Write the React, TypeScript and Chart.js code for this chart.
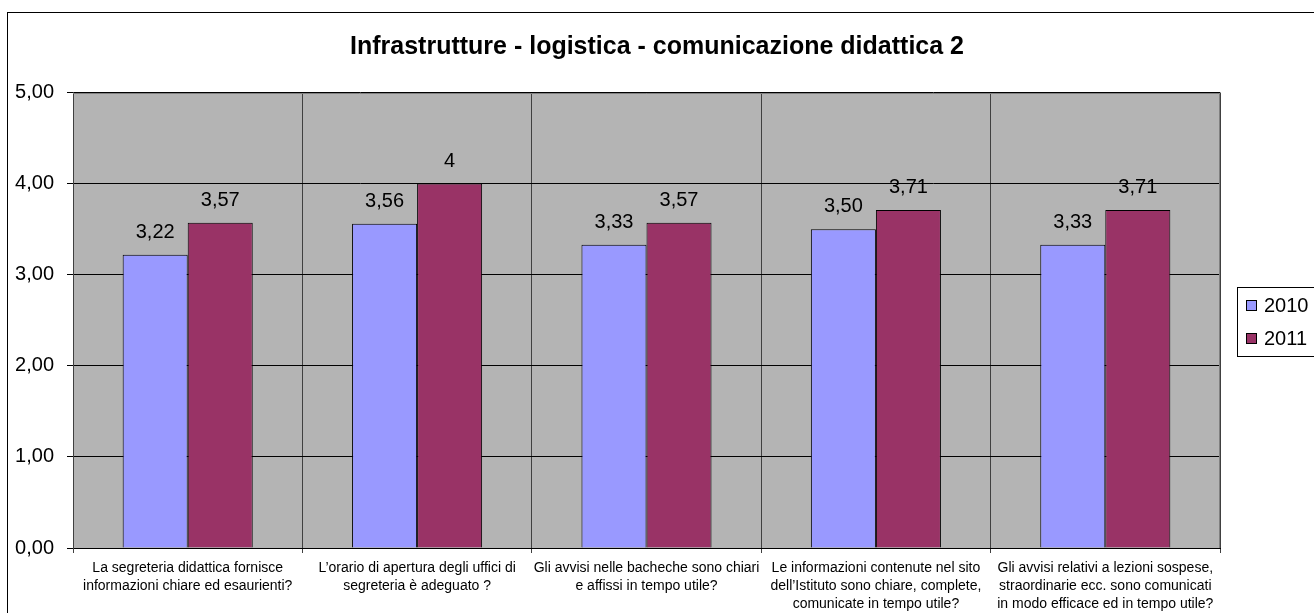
import React, { useEffect, useRef } from "react";
import { Chart, registerables } from "chart.js";

Chart.register(...registerables);

const FONT = "'Liberation Sans', Arial, Helvetica, sans-serif";

const chartTitle = "Infrastrutture - logistica - comunicazione didattica 2";

const categories: string[][] = [
  ["La segreteria didattica fornisce", "informazioni chiare ed esaurienti?"],
  ["L\u2019orario di apertura degli uffici di", "segreteria \u00e8 adeguato ?"],
  ["Gli avvisi nelle bacheche sono chiari", "e affissi in tempo utile?"],
  ["Le informazioni contenute nel sito", "dell\u2019Istituto sono chiare, complete,", "comunicate in tempo utile?"],
  ["Gli avvisi relativi a lezioni sospese,", "straordinarie ecc. sono comunicati", "in modo efficace ed in tempo utile?"],
];

const seriesNames = ["2010", "2011"];
const values2010 = [3.22, 3.56, 3.33, 3.5, 3.33];
const values2011 = [3.57, 4, 3.57, 3.71, 3.71];
const valueLabels2010 = ["3,22", "3,56", "3,33", "3,50", "3,33"];
const valueLabels2011 = ["3,57", "4", "3,57", "3,71", "3,71"];
const seriesColors = ["#9999FF", "#993366"];

const yMin = 0;
const yMax = 5;
const yStep = 1;

const backgroundPlugin = {
  id: "bgFrame",
  beforeDraw(chart: any) {
    const { ctx, chartArea } = chart;
    ctx.save();
    ctx.fillStyle = "#ffffff";
    ctx.fillRect(0, 0, chart.width, chart.height);
    ctx.strokeStyle = "#000000";
    ctx.lineWidth = 1;
    ctx.strokeRect(7.5, 12.5, 1500, 800);
    ctx.fillStyle = "#B4B4B4";
    ctx.fillRect(chartArea.left, chartArea.top, chartArea.right - chartArea.left, chartArea.bottom - chartArea.top);
    ctx.restore();
  },
  beforeDatasetsDraw(chart: any) {
    const { ctx, chartArea } = chart;
    ctx.save();
    ctx.strokeStyle = "#808080";
    ctx.lineWidth = 1;
    ctx.beginPath();
    ctx.moveTo(chartArea.left, Math.round(chartArea.top) + 0.5);
    ctx.lineTo(Math.round(chartArea.right) - 0.5, Math.round(chartArea.top) + 0.5);
    ctx.lineTo(Math.round(chartArea.right) - 0.5, chartArea.bottom);
    ctx.stroke();
    ctx.restore();
  },
};

const valueLabelPlugin = {
  id: "valueLabels",
  afterDatasetsDraw(chart: any) {
    const { ctx } = chart;
    const all = [valueLabels2010, valueLabels2011];
    ctx.save();
    ctx.font = `20px ${FONT}`;
    ctx.fillStyle = "#000000";
    ctx.textAlign = "center";
    ctx.textBaseline = "alphabetic";
    chart.data.datasets.forEach((_ds: any, di: number) => {
      const meta = chart.getDatasetMeta(di);
      meta.data.forEach((el: any, i: number) => {
        ctx.fillText(all[di][i], el.x, el.y - 17);
      });
    });
    ctx.restore();
  },
};

const legendPlugin = {
  id: "customLegend",
  afterDraw(chart: any) {
    const { ctx } = chart;
    const left = 1237.5;
    const top = 287.5;
    const bottom = 356.5;
    ctx.save();
    ctx.fillStyle = "#ffffff";
    ctx.fillRect(left, top, 200, bottom - top);
    ctx.strokeStyle = "#000000";
    ctx.lineWidth = 1;
    ctx.strokeRect(left, top, 200, bottom - top);
    ctx.font = `20px ${FONT}`;
    ctx.textAlign = "left";
    ctx.textBaseline = "middle";
    chart.data.datasets.forEach((ds: any, i: number) => {
      const cy = 305 + i * 33;
      ctx.fillStyle = ds.backgroundColor;
      ctx.fillRect(1246, cy - 5, 11, 11);
      ctx.strokeStyle = "#000000";
      ctx.strokeRect(1246.5, cy - 4.5, 10, 10);
      ctx.fillStyle = "#000000";
      ctx.fillText(ds.label, 1264, cy + 1);
    });
    ctx.restore();
  },
};

export default function App() {
  const canvasRef = useRef<HTMLCanvasElement | null>(null);

  useEffect(() => {
    if (!canvasRef.current) return;
    Chart.defaults.font.family = FONT;
    const chart = new Chart(canvasRef.current, {
      type: "bar",
      data: {
        labels: categories,
        datasets: [
          {
            label: seriesNames[0],
            data: values2010,
            backgroundColor: seriesColors[0],
            borderColor: "#000000",
            borderWidth: 1,
            categoryPercentage: 0.567,
            barPercentage: 1,
          },
          {
            label: seriesNames[1],
            data: values2011,
            backgroundColor: seriesColors[1],
            borderColor: "#000000",
            borderWidth: 1,
            categoryPercentage: 0.567,
            barPercentage: 1,
          },
        ],
      },
      options: {
        animation: false,
        responsive: false,
        devicePixelRatio: 1,
        layout: { padding: { left: 0, right: 0, top: 0, bottom: 0 } },
        plugins: {
          legend: { display: false },
          tooltip: { enabled: false },
          title: {
            display: true,
            text: chartTitle,
            color: "#000000",
            font: { size: 25, weight: "bold", family: FONT, lineHeight: 1.2 },
            padding: { top: 32, bottom: 30.5 },
          },
        },
        scales: {
          x: {
            offset: true,
            grid: {
              offset: true,
              color: "#404040",
              lineWidth: 1,
              tickLength: 5,
              tickColor: "#404040",
            },
            border: { color: "#000000", width: 1 },
            ticks: {
              color: "#000000",
              font: { size: 14, family: FONT, lineHeight: 18 / 14 },
              padding: 6,
              autoSkip: false,
              maxRotation: 0,
              minRotation: 0,
            },
            afterFit: (scale: any) => {
              scale.height = 65;
            },
          },
          y: {
            min: yMin,
            max: yMax,
            grid: {
              color: "#000000",
              lineWidth: 1,
              tickLength: 6,
              tickColor: "#000000",
            },
            border: { color: "#404040", width: 1 },
            ticks: {
              stepSize: yStep,
              color: "#000000",
              font: { size: 20, family: FONT },
              padding: 13,
              callback: (v: any) => Number(v).toFixed(2).replace(".", ","),
            },
            afterFit: (scale: any) => {
              scale.width = 73;
            },
          },
          legendSpace: {
            type: "linear",
            position: "right",
            display: true,
            grid: { display: false, drawTicks: false },
            border: { display: false },
            ticks: { display: false },
            afterFit: (scale: any) => {
              scale.width = 94;
            },
          },
        },
      },
      plugins: [backgroundPlugin, valueLabelPlugin, legendPlugin],
    });
    return () => chart.destroy();
  }, []);

  return (
    <div style={{ position: "absolute", left: 0, top: 0, width: 1314, height: 613 }}>
      <canvas ref={canvasRef} width={1314} height={613} style={{ display: "block" }} />
    </div>
  );
}
